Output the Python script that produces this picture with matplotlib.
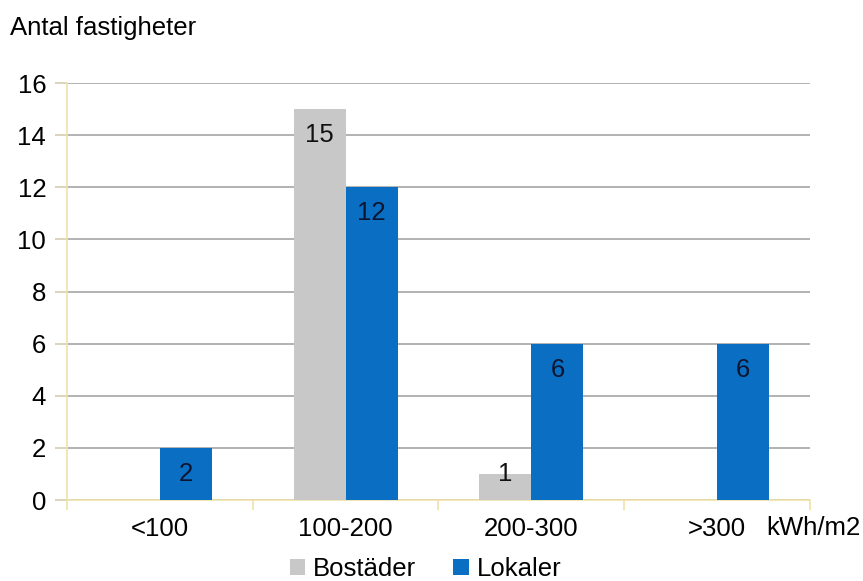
import matplotlib.pyplot as plt
import numpy as np

plt.rcParams['font.family'] = ['Liberation Sans', 'DejaVu Sans']

# energiklasser (kWh/m2) och antal fastigheter
kategorier = ["<100", "100-200", "200-300", ">300"]
bostader = [0, 15, 1, 0]
lokaler = [2, 12, 6, 6]
yticks = [0, 2, 4, 6, 8, 10, 12, 14, 16]

grid_col = "#a6a6a6"
axis_col = "#f0e2a8"
fs = 18.5
fig = plt.figure(figsize=(8.63, 5.81), dpi=100)
ax = fig.add_axes([0.0776, 0.1394, 0.861, 0.7177])

x = np.arange(len(kategorier))
w = 0.28
b1 = ax.bar(x - w / 2, bostader, w, color="#c8c8c8", label="Bostäder", zorder=3)
b2 = ax.bar(x + w / 2, lokaler, w, color="#0a6fc2", label="Lokaler", zorder=3)

# värdeetiketter innanför staplarnas topp
for bars, vals, col in [(b1, bostader, "#111111"), (b2, lokaler, "#0d1530")]:
    for rect, v in zip(bars, vals):
        if v == 0:
            continue
        ax.text(rect.get_x() + rect.get_width() / 2, max(v - 1, 1), str(v),
                ha="center", va="center", fontsize=fs, color=col, zorder=4)

ax.set_xlim(-0.5, len(kategorier) - 0.5)
ax.set_ylim(0, 16)
ax.set_yticks(yticks)
ax.set_yticklabels([str(t) for t in yticks], fontsize=fs)
ax.yaxis.grid(True, color=grid_col, linewidth=1.2, zorder=0)
ax.tick_params(axis="y", length=9, color="#d4cdb0", width=1.2, pad=6)

# kategorietiketter mellan markeringarna
ax.set_xticks(np.arange(len(kategorier) + 1) - 0.5)
ax.set_xticklabels([])
ax.set_xticks(x, minor=True)
ax.set_xticklabels(kategorier, minor=True, fontsize=fs)
ax.tick_params(axis="x", which="major", length=7, color=axis_col, width=1.2)
ax.tick_params(axis="x", which="minor", length=0, pad=12)

for s in ["top", "right"]:
    ax.spines[s].set_visible(False)
ax.spines["left"].set_color(axis_col)
ax.spines["bottom"].set_color(axis_col)
ax.spines["left"].set_linewidth(1.2)
ax.spines["bottom"].set_linewidth(1.2)

fig.text(0.012, 0.952, "Antal fastigheter", fontsize=fs, va="center")
fig.text(0.888, 0.092, "kWh/m2", fontsize=fs, va="center")

fig.legend(handles=[b1, b2], loc="center", bbox_to_anchor=(0.493, 0.02),
           ncol=2, frameon=False, fontsize=fs, handlelength=0.6,
           handleheight=0.6, handletextpad=0.3, columnspacing=1.45)

fig.savefig("out.png", dpi=100)
